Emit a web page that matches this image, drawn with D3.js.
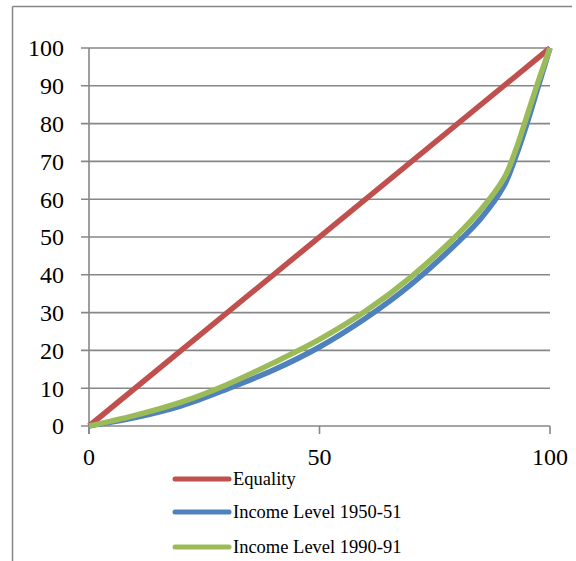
<!DOCTYPE html>
<html>
<head>
<meta charset="utf-8">
<script src="https://cdn.jsdelivr.net/npm/d3@7"></script>
<style>
  html, body { margin: 0; padding: 0; background: #fff; }
  svg { display: block; }
</style>
</head>
<body>
<svg id="chart" width="576" height="561"></svg>
<script>
// ---- data ----
const seriesNames = ["Equality", "Income Level 1950-51", "Income Level 1990-91"];
const seriesColors = ["#C0504D", "#4F81BD", "#9BBB59"];
const equalityX = [0, 100];
const equalityY = [0, 100];
const income1950X = [0, 10, 20, 30, 40, 50, 60, 70, 80, 85, 90, 92.5, 95, 97.5, 100];
const income1950Y = [0, 2.2, 5.3, 9.8, 14.8, 20.9, 28.5, 37.6, 48.6, 54.9, 63.5, 71, 80, 90, 100];
const income1990X = [0, 10, 20, 30, 40, 50, 60, 70, 80, 85, 90, 92.5, 95, 97.5, 100];
const income1990Y = [0, 2.8, 6.3, 11.0, 16.7, 22.9, 30.4, 39.6, 50.7, 57.2, 65.5, 72.8, 82, 91.3, 100];
const xTicks = [0, 50, 100];
const yTicks = [0, 10, 20, 30, 40, 50, 60, 70, 80, 90, 100];

const svg = d3.select("#chart");
const grey = "#878787";
const serif = "'Liberation Serif', 'Times New Roman', serif";

// outer frame (top + left)
svg.append("line").attr("x1", 12.5).attr("x2", 572).attr("y1", 6.5).attr("y2", 6.5)
  .attr("stroke", grey).attr("stroke-width", 1.5);
svg.append("line").attr("x1", 12.5).attr("x2", 12.5).attr("y1", 6.5).attr("y2", 561)
  .attr("stroke", grey).attr("stroke-width", 1.5);

const x = d3.scaleLinear().domain([0, 100]).range([89, 550]);
const y = d3.scaleLinear().domain([0, 100]).range([426, 48]);

// horizontal gridlines + y axis labels
const gY = svg.append("g");
gY.selectAll("line.grid").data(yTicks).enter().append("line")
  .attr("x1", 81).attr("x2", x(100))
  .attr("y1", d => y(d)).attr("y2", d => y(d))
  .attr("stroke", grey).attr("stroke-width", 1.6);
gY.selectAll("text").data(yTicks).enter().append("text")
  .attr("x", 64).attr("y", d => y(d))
  .attr("dy", "0.35em")
  .attr("text-anchor", "end")
  .style("font-family", serif)
  .attr("font-size", 24)
  .attr("fill", "#000")
  .text(d => d);

// vertical axis line
svg.append("line").attr("x1", x(0)).attr("x2", x(0)).attr("y1", y(100)).attr("y2", y(0) + 8)
  .attr("stroke", grey).attr("stroke-width", 1.6);

// x ticks + labels
const gX = svg.append("g");
gX.selectAll("line").data(xTicks).enter().append("line")
  .attr("x1", d => x(d)).attr("x2", d => x(d))
  .attr("y1", y(0)).attr("y2", y(0) + 8)
  .attr("stroke", grey).attr("stroke-width", 1.6);
gX.selectAll("text").data(xTicks).enter().append("text")
  .attr("x", d => x(d)).attr("y", 457)
  .attr("dy", "0.35em")
  .attr("text-anchor", "middle")
  .style("font-family", serif)
  .attr("font-size", 24)
  .attr("fill", "#000")
  .text(d => d);

// series
const toPts = (xs, ys) => xs.map((v, i) => [v, ys[i]]);
const series = [
  toPts(equalityX, equalityY),
  toPts(income1950X, income1950Y),
  toPts(income1990X, income1990Y)
];
const line = d3.line().x(d => x(d[0])).y(d => y(d[1])).curve(d3.curveCatmullRom.alpha(0.5));
svg.append("g").selectAll("path").data(series).enter().append("path")
  .attr("d", d => line(d))
  .attr("fill", "none")
  .attr("stroke", (d, i) => seriesColors[i])
  .attr("stroke-width", 5.5)
  .attr("stroke-linejoin", "round");

// legend
const legendY = [479, 512, 547];
const lg = svg.append("g");
seriesNames.forEach((name, i) => {
  lg.append("line")
    .attr("x1", 175).attr("x2", 229)
    .attr("y1", legendY[i]).attr("y2", legendY[i])
    .attr("stroke", seriesColors[i]).attr("stroke-width", 5)
    .attr("stroke-linecap", "round");
  lg.append("text")
    .attr("x", 233).attr("y", legendY[i])
    .attr("dy", "0.35em")
    .style("font-family", serif)
    .attr("font-size", 18.5)
    .attr("fill", "#000")
    .text(name);
});
</script>
</body>
</html>
